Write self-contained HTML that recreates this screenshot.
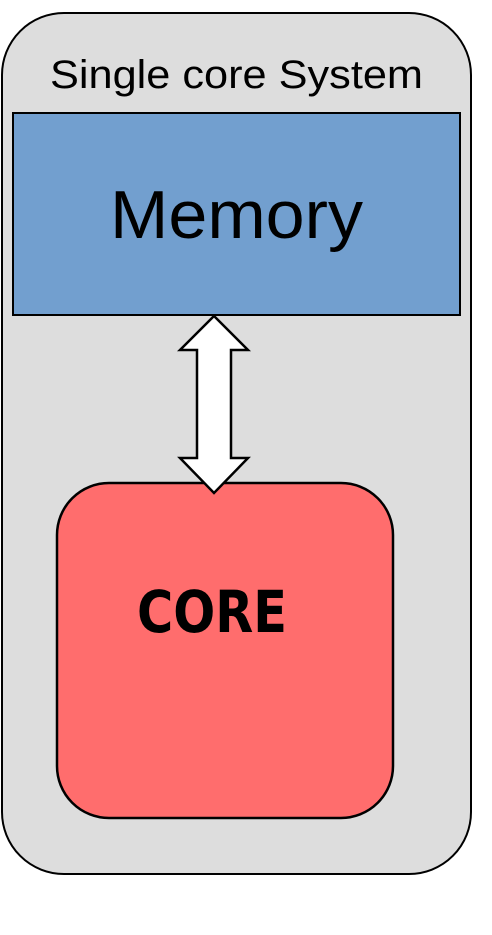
<!DOCTYPE html>
<html><head><style>body{margin:0;background:#fff}</style></head><body>
<svg width="492" height="930" xmlns="http://www.w3.org/2000/svg">
<rect x="2" y="13" width="469" height="861" rx="62" fill="#dddddd" stroke="#000" stroke-width="2"/>
<text x="50" y="88" font-family="Liberation Sans, sans-serif" font-size="40" textLength="373" lengthAdjust="spacingAndGlyphs">Single core System</text>
<rect x="13" y="113" width="447" height="202" fill="#729fcf" stroke="#000" stroke-width="2"/>
<text x="110" y="238" font-family="Liberation Sans, sans-serif" font-size="68" textLength="253" lengthAdjust="spacingAndGlyphs">Memory</text>
<rect x="57" y="483" width="336" height="335" rx="52" fill="#ff6d6d" stroke="#000" stroke-width="2.5"/>
<text x="137" y="632" font-family="DejaVu Sans Condensed, DejaVu Sans, sans-serif" font-weight="bold" font-size="58" textLength="150" lengthAdjust="spacingAndGlyphs">CORE</text>
<polygon points="214,316 248,350 231,350 231,458 248,458 214,493 180,458 197,458 197,350 180,350" fill="#fff" stroke="#000" stroke-width="2.5" stroke-linejoin="miter"/>
</svg>
</body></html>
